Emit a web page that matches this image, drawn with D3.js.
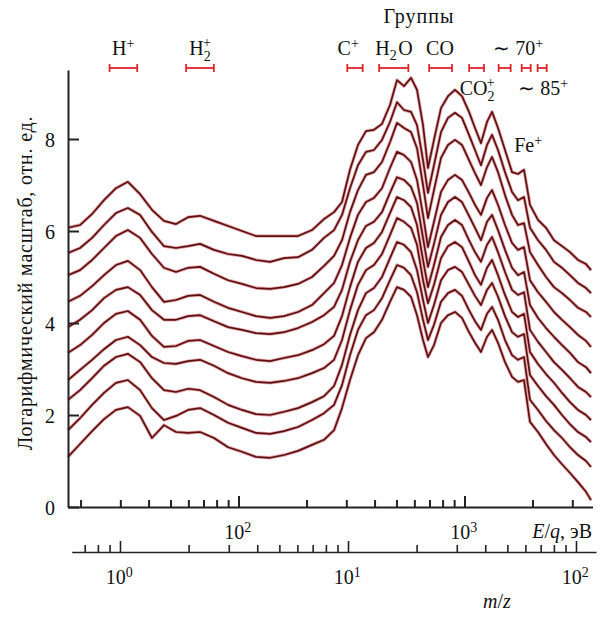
<!DOCTYPE html>
<html>
<head>
<meta charset="utf-8">
<script src="https://cdn.jsdelivr.net/npm/d3@7"></script>
<style>
  body { margin: 0; background: #fff; }
  svg text { font-family: "Liberation Serif", "Times New Roman", serif; fill: #111; }
</style>
</head>
<body>
<svg id="chart" width="602" height="617"></svg>
<script>
// energy grid, E/q in eV (shared by all spectra)
var energy = [17.6, 19.9, 22.5, 25.4, 28.7, 32.4, 36.7, 41.4, 46.8, 52.9, 59.8, 67.6, 77.9, 89.9, 103.6, 119.5, 137.9, 159.0, 183.4, 211.5,
  239.0, 264.7, 287.1, 311.4, 337.8, 366.5, 397.5, 431.5, 468.1, 502.8, 540.0, 580.0, 616.5, 655.3, 689.4, 732.8, 787.1, 845.3, 907.8, 974.8,
  1047, 1113, 1183, 1258, 1324, 1407, 1511, 1623, 1725, 1834, 1949, 2115, 2295, 2489, 2701, 2930, 3179, 3449, 3629];

// log-scale counts (relative units, shifted), top spectrum first
var spectrum01 = [6.07, 6.13, 6.37, 6.67, 6.93, 7.07, 6.80, 6.46, 6.22, 6.15, 6.30, 6.33, 6.22, 6.11, 6.00, 5.89, 5.89, 5.89, 5.89, 6.02,
  6.26, 6.41, 6.63, 7.33, 7.87, 8.17, 8.20, 8.33, 8.74, 9.28, 9.15, 9.33, 9.07, 8.30, 7.37, 7.98, 8.67, 8.93, 9.07, 8.93,
  8.59, 8.24, 7.91, 8.37, 8.59, 8.24, 7.76, 7.28, 7.24, 7.33, 6.57, 6.24, 6.07, 5.80, 5.67, 5.54, 5.37, 5.28, 5.15];
var spectrum02 = [5.52, 5.63, 5.85, 6.13, 6.39, 6.50, 6.35, 5.98, 5.67, 5.63, 5.67, 5.72, 5.59, 5.50, 5.46, 5.37, 5.33, 5.41, 5.43, 5.59,
  5.85, 6.02, 6.35, 6.93, 7.43, 7.72, 7.76, 7.98, 8.37, 8.80, 8.63, 8.59, 8.30, 7.54, 6.83, 7.43, 8.15, 8.46, 8.57, 8.46,
  8.09, 7.76, 7.43, 7.87, 8.09, 7.76, 7.28, 6.85, 6.67, 6.74, 6.07, 5.80, 5.59, 5.33, 5.20, 5.04, 4.87, 4.76, 4.65];
var spectrum03 = [5.04, 5.15, 5.37, 5.63, 5.89, 6.02, 5.85, 5.50, 5.20, 5.11, 5.20, 5.22, 5.07, 4.93, 4.85, 4.76, 4.74, 4.78, 4.85, 5.00,
  5.24, 5.46, 5.80, 6.41, 6.89, 7.22, 7.28, 7.50, 7.93, 8.35, 8.24, 8.15, 7.80, 7.00, 6.28, 6.89, 7.59, 7.87, 7.98, 7.87,
  7.54, 7.26, 7.00, 7.39, 7.61, 7.28, 6.78, 6.35, 6.13, 6.17, 5.54, 5.26, 5.00, 4.78, 4.65, 4.50, 4.33, 4.24, 4.13];
var spectrum04 = [4.46, 4.59, 4.80, 5.04, 5.26, 5.35, 5.15, 4.78, 4.46, 4.50, 4.59, 4.61, 4.46, 4.33, 4.24, 4.15, 4.11, 4.15, 4.24, 4.39,
  4.65, 4.87, 5.26, 5.85, 6.35, 6.63, 6.72, 6.93, 7.37, 7.72, 7.65, 7.50, 7.11, 6.35, 5.65, 6.20, 6.85, 7.11, 7.22, 7.11,
  6.83, 6.57, 6.35, 6.72, 6.89, 6.57, 6.13, 5.74, 5.59, 5.65, 4.93, 4.67, 4.46, 4.24, 4.07, 3.91, 3.74, 3.61, 3.48];
var spectrum05 = [3.91, 4.07, 4.28, 4.54, 4.72, 4.78, 4.61, 4.28, 4.07, 4.07, 4.15, 4.17, 4.04, 3.91, 3.85, 3.78, 3.76, 3.80, 3.89, 4.02,
  4.17, 4.35, 4.72, 5.33, 5.80, 6.11, 6.20, 6.41, 6.83, 7.17, 7.11, 6.96, 6.61, 5.85, 5.22, 5.72, 6.35, 6.63, 6.74, 6.63,
  6.33, 6.07, 5.80, 6.20, 6.35, 6.02, 5.59, 5.20, 5.04, 5.11, 4.39, 4.11, 3.89, 3.70, 3.52, 3.35, 3.15, 3.04, 2.91];
var spectrum06 = [3.35, 3.52, 3.74, 4.00, 4.20, 4.26, 4.07, 3.72, 3.48, 3.50, 3.61, 3.63, 3.50, 3.37, 3.28, 3.20, 3.17, 3.24, 3.30, 3.41,
  3.54, 3.72, 4.15, 4.78, 5.33, 5.63, 5.74, 5.98, 6.39, 6.74, 6.67, 6.52, 6.13, 5.37, 4.78, 5.26, 5.87, 6.13, 6.24, 6.13,
  5.80, 5.54, 5.33, 5.70, 5.87, 5.54, 5.11, 4.72, 4.61, 4.67, 3.85, 3.59, 3.37, 3.15, 2.98, 2.80, 2.61, 2.50, 2.39];
var spectrum07 = [2.76, 2.98, 3.20, 3.43, 3.63, 3.70, 3.52, 3.26, 3.13, 3.11, 3.17, 3.20, 3.07, 2.91, 2.80, 2.72, 2.70, 2.74, 2.80, 2.91,
  3.02, 3.20, 3.63, 4.28, 4.83, 5.15, 5.26, 5.50, 5.91, 6.28, 6.20, 6.07, 5.70, 4.93, 4.43, 4.83, 5.41, 5.67, 5.76, 5.65,
  5.33, 5.04, 4.83, 5.20, 5.37, 5.04, 4.61, 4.24, 4.13, 4.20, 3.37, 3.11, 2.89, 2.70, 2.48, 2.28, 2.11, 2.00, 1.89];
var spectrum08 = [2.33, 2.54, 2.80, 3.07, 3.26, 3.33, 3.15, 2.80, 2.54, 2.50, 2.57, 2.54, 2.39, 2.22, 2.11, 2.02, 2.00, 2.07, 2.15, 2.28,
  2.41, 2.63, 3.09, 3.74, 4.28, 4.65, 4.76, 5.00, 5.41, 5.76, 5.70, 5.54, 5.15, 4.50, 4.00, 4.39, 4.93, 5.15, 5.22, 5.11,
  4.83, 4.59, 4.39, 4.72, 4.87, 4.57, 4.15, 3.80, 3.70, 3.76, 2.87, 2.63, 2.41, 2.22, 2.00, 1.80, 1.63, 1.52, 1.41];
var spectrum09 = [1.67, 1.93, 2.22, 2.48, 2.70, 2.76, 2.54, 2.15, 1.89, 1.98, 2.11, 2.15, 2.00, 1.83, 1.72, 1.61, 1.59, 1.65, 1.74, 1.89,
  2.04, 2.22, 2.65, 3.30, 3.85, 4.17, 4.28, 4.54, 4.93, 5.26, 5.20, 5.04, 4.67, 4.07, 3.63, 3.96, 4.46, 4.65, 4.72, 4.59,
  4.28, 4.04, 3.85, 4.20, 4.35, 4.07, 3.63, 3.30, 3.20, 3.26, 2.33, 2.11, 1.87, 1.67, 1.50, 1.30, 1.13, 1.00, 0.87];
var spectrum10 = [1.09, 1.37, 1.65, 1.91, 2.11, 2.17, 1.98, 1.50, 1.78, 1.63, 1.61, 1.63, 1.50, 1.30, 1.20, 1.09, 1.07, 1.13, 1.22, 1.35,
  1.46, 1.67, 2.15, 2.76, 3.30, 3.67, 3.80, 4.07, 4.46, 4.78, 4.72, 4.57, 4.17, 3.63, 3.26, 3.52, 4.00, 4.17, 4.24, 4.11,
  3.80, 3.57, 3.37, 3.70, 3.85, 3.57, 3.15, 2.83, 2.72, 2.76, 1.85, 1.63, 1.37, 1.13, 0.93, 0.74, 0.54, 0.33, 0.15];

var spectra = [spectrum01, spectrum02, spectrum03, spectrum04, spectrum05,
               spectrum06, spectrum07, spectrum08, spectrum09, spectrum10];

// axis ticks
var yTicks = [0, 2, 4, 6, 8];
var eMajor = [100, 1000];
var eMinor = [20, 30, 40, 50, 60, 70, 80, 90, 200, 300, 400, 500, 600, 700, 800, 900, 2000, 3000];
var mMajor = [1, 10, 100];
var mMinor = [0.7, 0.8, 0.9, 2, 3, 4, 5, 6, 7, 8, 9, 20, 30, 40, 50, 60, 70, 80, 90];

// ion groups, m/z ranges
var groupFrom = [0.90, 1.95, 9.93, 13.7, 22.7, 34.0, 45.8, 57.8, 67.9];
var groupTo   = [1.19, 2.58, 11.6, 18.4, 28.6, 39.5, 51.7, 63.3, 74.4];

var svg = d3.select("#chart");

var x = d3.scaleLog().domain([17.6, 3685]).range([68, 592.5]);
var xm = d3.scaleLog().domain([0.614, 122.4]).range([71.7, 596]);
var y = d3.scaleLinear().domain([0, 9.5]).range([507, 70]);

// spectra
var line = d3.line()
    .x(function(d) { return x(d[0]); })
    .y(function(d) { return y(d[1]); });

var lines = svg.append("g").attr("class", "spectra");
spectra.forEach(function(s) {
    var pts = energy.map(function(e, i) { return [e, s[i]]; });
    lines.append("path")
        .attr("d", line(pts))
        .attr("fill", "none")
        .attr("stroke", "#d0575a")
        .attr("stroke-opacity", 0.5)
        .attr("stroke-width", 3.4)
        .attr("stroke-linejoin", "round");
    lines.append("path")
        .attr("d", line(pts))
        .attr("fill", "none")
        .attr("stroke", "#5c1014")
        .attr("stroke-width", 1.7)
        .attr("stroke-linejoin", "round");
});

// y axis
var yAxis = svg.append("g")
    .attr("transform", "translate(68,0)")
    .call(d3.axisLeft(y).tickValues(yTicks).tickSizeInner(-11).tickSizeOuter(0).tickPadding(13));
yAxis.selectAll("text").style("font-size", "20px").attr("dy", "0.35em");

// E/q axis
var eAxis = svg.append("g").attr("transform", "translate(0,507)");
eAxis.call(d3.axisBottom(x).tickValues(eMinor).tickSizeInner(-7).tickSizeOuter(0).tickFormat(""));
eAxis.append("g").call(d3.axisBottom(x).tickValues(eMajor).tickSizeInner(-11).tickSizeOuter(0).tickFormat(""))
    .select(".domain").remove();

// m/z axis
var mAxis = svg.append("g").attr("transform", "translate(0,552)");
mAxis.call(d3.axisBottom(xm).tickValues(mMinor).tickSizeInner(-7).tickSizeOuter(0).tickFormat(""));
mAxis.append("g").call(d3.axisBottom(xm).tickValues(mMajor).tickSizeInner(-11).tickSizeOuter(0).tickFormat(""))
    .select(".domain").remove();

svg.selectAll(".domain, .tick line").attr("stroke", "#222").attr("stroke-width", 2);
mAxis.selectAll(".domain, .tick line").attr("stroke-width", 1.6);

// label helper: parts = [[text, kind]], kind: n, sup, sub, subsup
function richText(g, px, py, parts, size, anchor) {
    var t = g.append("text").attr("x", px).attr("y", py)
        .attr("text-anchor", anchor || "middle").style("font-size", size + "px");
    var small = Math.round(size * 0.72);
    parts.forEach(function(p) {
        if (p[1] == "n") {
            t.append("tspan").text(p[0]).style("font-style", p[2] ? "italic" : null);
        } else if (p[1] == "sup") {
            t.append("tspan").attr("dy", -size * 0.36).style("font-size", small + "px").text(p[0]);
            t.append("tspan").attr("dy", size * 0.36).text("\u200a");
        } else if (p[1] == "sub") {
            t.append("tspan").attr("dy", size * 0.25).style("font-size", small + "px").text(p[0]);
            t.append("tspan").attr("dy", -size * 0.25).text("\u200a");
        } else if (p[1] == "subsup") {
            t.append("tspan").attr("dy", size * 0.3).style("font-size", small + "px").text(p[0]);
            t.append("tspan").attr("dx", -small * 0.55).attr("dy", -size * 0.7).style("font-size", small + "px").text(p[2]);
            t.append("tspan").attr("dy", size * 0.4).text("\u200a");
        }
    });
    return t;
}

var ann = svg.append("g");
// tick labels on the energy and mass axes
eMajor.forEach(function(v) {
    richText(ann, x(v), 539, [["10", "n"], [String(Math.round(Math.log10(v))), "sup"]], 20);
});
mMajor.forEach(function(v) {
    richText(ann, xm(v), 584, [["10", "n"], [String(Math.round(Math.log10(v))), "sup"]], 20);
});
richText(ann, 592, 538, [["E", "n", 1], ["/", "n"], ["q", "n", 1], [", эВ", "n"]], 20, "end");
richText(ann, 497, 608, [["m", "n", 1], ["/", "n"], ["z", "n", 1]], 20);

// y label
ann.append("text")
    .attr("transform", "translate(32,283) rotate(-90)")
    .attr("text-anchor", "middle")
    .style("font-size", "20px")
    .style("letter-spacing", "0.8px")
    .text("Логарифмический масштаб, отн. ед.");

// group bars
var bars = svg.append("g");
groupFrom.forEach(function(f, i) {
    var x0 = xm(f), x1 = xm(groupTo[i]);
    bars.append("line").attr("x1", x0).attr("x2", x1).attr("y1", 68).attr("y2", 68);
    bars.append("line").attr("x1", x0).attr("x2", x0).attr("y1", 64).attr("y2", 72);
    bars.append("line").attr("x1", x1).attr("x2", x1).attr("y1", 64).attr("y2", 72);
});
bars.selectAll("line").attr("stroke", "#e0242c").attr("stroke-width", 1.8);

// group labels
ann.append("text").attr("x", 419).attr("y", 23).attr("text-anchor", "middle")
    .style("font-size", "20px").style("letter-spacing", "1px").text("Группы");
richText(ann, 124, 55, [["H", "n"], ["+", "sup"]], 20);
richText(ann, 201, 55, [["H", "n"], ["2", "subsup", "+"]], 20);
richText(ann, 349, 55, [["C", "n"], ["+", "sup"]], 20);
richText(ann, 394, 55, [["H", "n"], ["2", "sub"], ["O", "n"]], 20);
richText(ann, 440, 55, [["CO", "n"]], 20);
richText(ann, 519, 55, [["\u223c 70", "n"], ["+", "sup"]], 20);
richText(ann, 478, 95, [["CO", "n"], ["2", "subsup", "+"]], 20);
richText(ann, 544, 95, [["\u223c 85", "n"], ["+", "sup"]], 20);
richText(ann, 529, 152, [["Fe", "n"], ["+", "sup"]], 20);
</script>
</body>
</html>
